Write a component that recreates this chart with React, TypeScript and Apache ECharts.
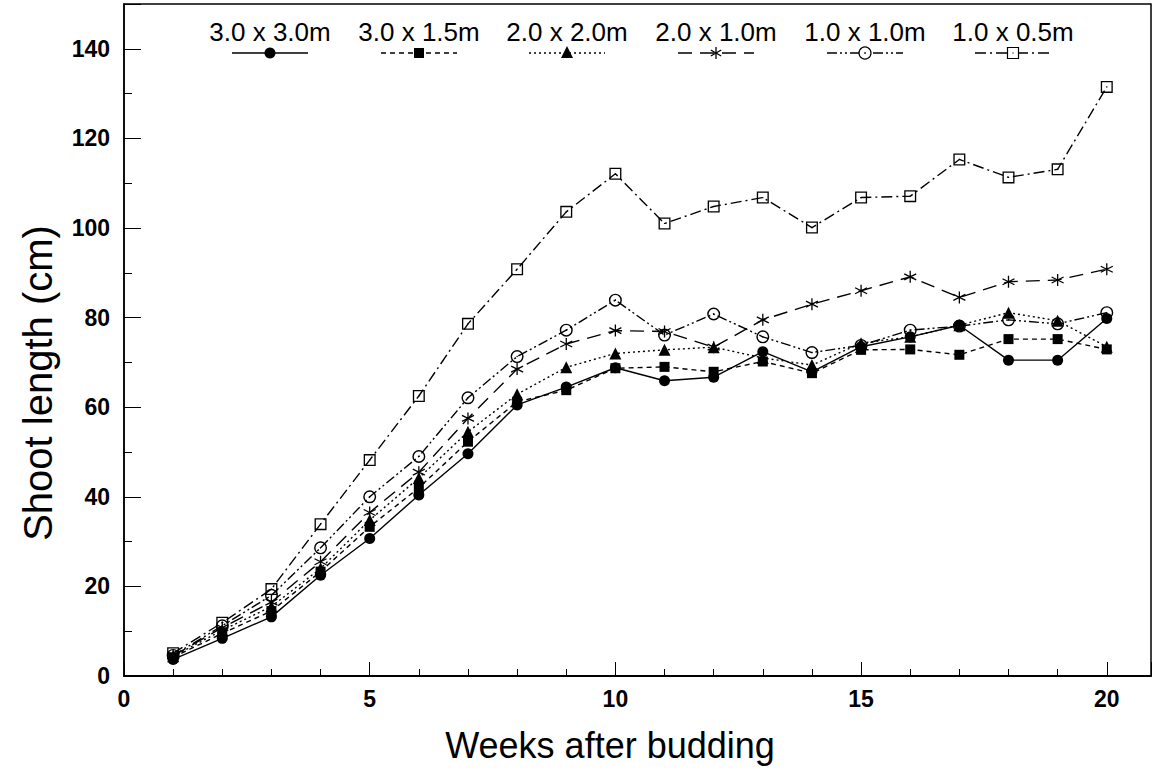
import React, { useEffect, useRef } from "react";
import * as echarts from "echarts";

const weeks = [1, 2, 3, 4, 5, 6, 7, 8, 9, 10, 11, 12, 13, 14, 15, 16, 17, 18, 19, 20];
const seriesNames = ["3.0 x 3.0m", "3.0 x 1.5m", "2.0 x 2.0m", "2.0 x 1.0m", "1.0 x 1.0m", "1.0 x 0.5m"];

const s30x30 = [3.7, 8.4, 13.2, 22.5, 30.7, 40.4, 49.6, 60.5, 64.5, 68.8, 65.9, 66.7, 72.4, 67.9, 73.5, 75.7, 78.3, 70.5, 70.5, 79.8];
const s30x15 = [4.2, 9.5, 14.5, 23.3, 33.3, 42.0, 52.3, 61.2, 63.8, 68.7, 69.0, 67.9, 70.2, 67.6, 72.8, 72.9, 71.7, 75.2, 75.2, 72.9];
const s20x20 = [4.4, 10.2, 15.5, 24.0, 34.8, 44.2, 54.5, 62.9, 68.9, 72.0, 72.8, 73.4, 71.0, 69.4, 74.3, 75.7, 78.3, 81.1, 79.3, 73.5];
const s20x10 = [4.5, 10.8, 16.5, 25.5, 36.5, 45.5, 57.5, 68.5, 74.1, 77.1, 76.9, 73.4, 79.5, 83.0, 86.0, 89.1, 84.5, 88.0, 88.4, 90.8];
const s10x10 = [4.6, 11.2, 18.0, 28.6, 40.0, 49.0, 62.1, 71.3, 77.2, 83.9, 76.1, 80.8, 75.7, 72.2, 73.8, 77.2, 78.1, 79.5, 78.6, 81.1];
const s10x05 = [5.1, 11.9, 19.4, 33.9, 48.2, 62.5, 78.6, 90.8, 103.6, 112.1, 101.0, 104.8, 106.8, 100.1, 106.8, 107.1, 115.3, 111.3, 113.1, 131.5];

const xTickLabels = [0, 5, 10, 15, 20];
const yTickLabels = [0, 20, 40, 60, 80, 100, 120, 140];

const FONT = "Liberation Sans";

const SYM_ASTERISK = "path://M5,0 L5,10 M0.67,2.5 L9.33,7.5 M0.67,7.5 L9.33,2.5";
const SYM_OPEN_CIRCLE =
  "path://M0,5 A5,5 0 1,0 10,5 A5,5 0 1,0 0,5 Z M1.1,5 A3.9,3.9 0 1,1 8.9,5 A3.9,3.9 0 1,1 1.1,5 Z M4.4,5 A0.6,0.6 0 1,0 5.6,5 A0.6,0.6 0 1,0 4.4,5 Z";
const SYM_OPEN_SQUARE =
  "path://M0,0 H10 V10 H0 Z M1.1,1.1 V8.9 H8.9 V1.1 Z M4.5,4.5 H5.5 V5.5 H4.5 Z";

const dashes: (number[] | "solid")[] = ["solid", [5, 4], [2, 3], [14, 8], [10, 3, 2, 3, 2, 3], [11, 4, 2, 4]];
const symbols = ["circle", "rect", "triangle", SYM_ASTERISK, SYM_OPEN_CIRCLE, SYM_OPEN_SQUARE];
const symbolSizes = [11, 10, 12, 12, 13, 12];
const allValues = [s30x30, s30x15, s20x20, s20x10, s10x10, s10x05];

function legendGraphics() {
  const centers = [270, 419, 567, 716, 865, 1013];
  const ty = 32;
  const ly = 53;
  const els: any[] = [];
  centers.forEach((cx, i) => {
    els.push({
      type: "text",
      x: cx,
      y: ty,
      style: { text: seriesNames[i], fontSize: 26, fontFamily: FONT, fill: "#000", align: "center", verticalAlign: "middle" },
    });
    els.push({
      type: "line",
      shape: { x1: cx - 38, y1: ly, x2: cx + 38, y2: ly },
      style: { stroke: "#000", lineWidth: 1.4, lineDash: dashes[i] === "solid" ? null : dashes[i] },
      z: 10,
    });
    const z = 11;
    if (i === 0) els.push({ type: "circle", shape: { cx, cy: ly, r: 5.5 }, style: { fill: "#000" }, z });
    if (i === 1) els.push({ type: "rect", shape: { x: cx - 5, y: ly - 5, width: 10, height: 10 }, style: { fill: "#000" }, z });
    if (i === 2)
      els.push({ type: "polygon", shape: { points: [[cx, ly - 7], [cx - 6, ly + 5], [cx + 6, ly + 5]] }, style: { fill: "#000" }, z });
    if (i === 3) {
      els.push({ type: "line", shape: { x1: cx, y1: ly - 6, x2: cx, y2: ly + 6 }, style: { stroke: "#000", lineWidth: 1.3 }, z });
      els.push({ type: "line", shape: { x1: cx - 5.2, y1: ly - 3, x2: cx + 5.2, y2: ly + 3 }, style: { stroke: "#000", lineWidth: 1.3 }, z });
      els.push({ type: "line", shape: { x1: cx - 5.2, y1: ly + 3, x2: cx + 5.2, y2: ly - 3 }, style: { stroke: "#000", lineWidth: 1.3 }, z });
    }
    if (i === 4) {
      els.push({ type: "circle", shape: { cx, cy: ly, r: 6 }, style: { fill: "#fff", stroke: "#000", lineWidth: 1.2 }, z });
      els.push({ type: "circle", shape: { cx, cy: ly, r: 0.8 }, style: { fill: "#000" }, z: z + 1 });
    }
    if (i === 5) {
      els.push({ type: "rect", shape: { x: cx - 5.5, y: ly - 5.5, width: 11, height: 11 }, style: { fill: "#fff", stroke: "#000", lineWidth: 1.2 }, z });
      els.push({ type: "rect", shape: { x: cx - 0.6, y: ly - 0.6, width: 1.2, height: 1.2 }, style: { fill: "#000" }, z: z + 1 });
    }
  });
  return els;
}

export default function App() {
  const ref = useRef<HTMLDivElement>(null);
  useEffect(() => {
    if (!ref.current) return;
    const chart = echarts.init(ref.current, null, { renderer: "svg" });
    const gridLeft = 124;
    const gridTop = 4;
    const gridHeight = 672;
    const xMax = 20.9;
    const option: any = {
      animation: false,
      backgroundColor: "#fff",
      grid: {
        left: gridLeft,
        top: gridTop,
        right: -3,
        height: gridHeight,
        show: true,
        borderColor: "#000",
        borderWidth: 1.5,
        backgroundColor: "transparent",
      },
      xAxis: [
        {
          type: "value",
          min: 0,
          max: xMax,
          interval: 5,
          axisLine: { show: true, onZero: false, lineStyle: { color: "#000", width: 2 } },
          axisTick: { show: true, inside: true, length: 14, lineStyle: { color: "#000", width: 1 } },
          splitLine: { show: false },
          axisLabel: {
            color: "#000",
            fontSize: 23,
            fontWeight: "bold",
            fontFamily: FONT,
            margin: 11,
            formatter: (v: number) => (xTickLabels.includes(v) ? String(v) : ""),
          },
        },
        {
          type: "value",
          min: 0,
          max: xMax,
          interval: 1,
          position: "bottom",
          axisLine: { show: false },
          axisTick: { show: true, inside: true, length: 7, lineStyle: { color: "#000", width: 1 } },
          splitLine: { show: false },
          axisLabel: { show: false },
        },
      ],
      yAxis: [
        {
          type: "value",
          min: 0,
          max: 150,
          interval: 20,
          axisLine: { show: true, onZero: false, lineStyle: { color: "#000", width: 1.5 } },
          axisTick: { show: true, inside: true, length: 17, lineStyle: { color: "#000", width: 1 } },
          splitLine: { show: false },
          axisLabel: {
            color: "#000",
            fontSize: 23,
            fontWeight: "bold",
            fontFamily: FONT,
            margin: 14,
            formatter: (v: number) => (yTickLabels.includes(v) ? String(v) : ""),
          },
        },
        {
          type: "value",
          min: 0,
          max: 150,
          interval: 10,
          position: "left",
          axisLine: { show: false },
          axisTick: { show: true, inside: true, length: 8, lineStyle: { color: "#000", width: 1 } },
          splitLine: { show: false },
          axisLabel: { show: false },
        },
      ],
      series: allValues.map((vals, i) => ({
        type: "line",
        name: seriesNames[i],
        xAxisIndex: 0,
        yAxisIndex: 0,
        data: weeks.map((w, k) => [w, vals[k]]),
        symbol: symbols[i],
        symbolSize: symbolSizes[i],
        showSymbol: true,
        lineStyle: { color: "#000", width: 1.4, type: dashes[i] },
        itemStyle: {
          color: "#000",
          borderColor: "#000",
          borderWidth: i === 3 ? 1.3 : 0,
        },
        z: 2 + i,
      })),
      graphic: [
        {
          type: "text",
          x: 610,
          y: 745,
          style: { text: "Weeks after budding", fontSize: 36, fontFamily: FONT, fill: "#000", align: "center", verticalAlign: "middle" },
        },
        {
          type: "text",
          x: 38,
          y: 383,
          rotation: Math.PI / 2,
          style: { text: "Shoot length (cm)", fontSize: 40, fontFamily: FONT, fill: "#000", align: "center", verticalAlign: "middle" },
        },
        ...legendGraphics(),
      ],
    };
    chart.setOption(option);
    return () => chart.dispose();
  }, []);
  return <div ref={ref} style={{ position: "absolute", left: 0, top: 0, width: 1154, height: 776 }} />;
}
